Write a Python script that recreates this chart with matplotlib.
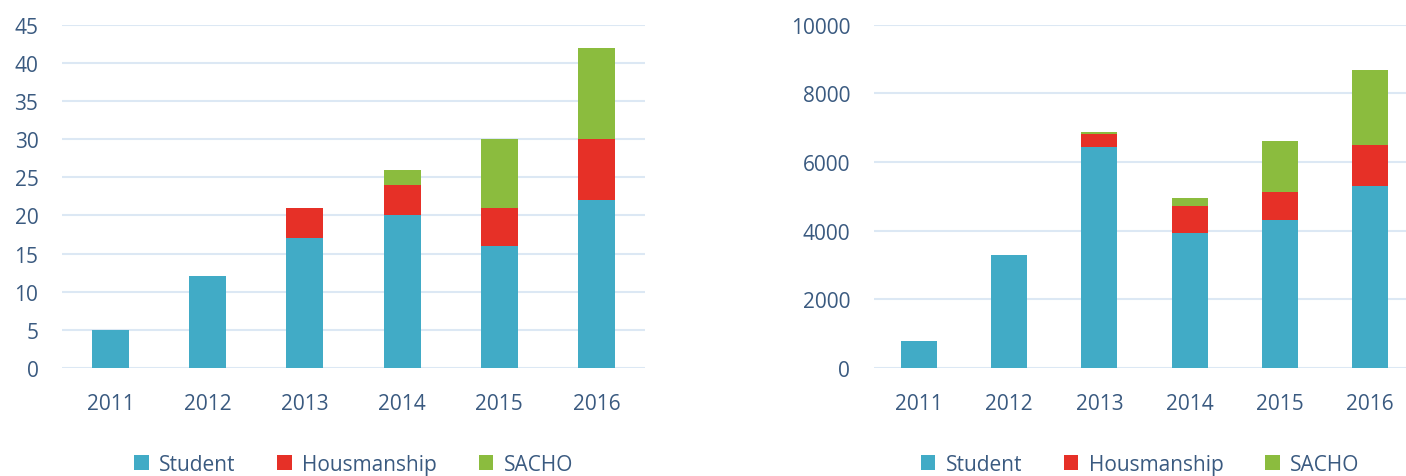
import matplotlib.pyplot as plt
import numpy as np

years = ["2011", "2012", "2013", "2014", "2015", "2016"]

# left chart: counts
student_n = [5, 12, 17, 20, 16, 22]
housman_n = [0, 0, 4, 4, 5, 8]
sacho_n = [0, 0, 0, 2, 9, 12]

# right chart: amounts
student_v = [800, 3300, 6430, 3920, 4310, 5300]
housman_v = [0, 0, 390, 800, 810, 1200]
sacho_v = [0, 0, 60, 240, 1500, 2170]

labels = ["Student", "Housmanship", "SACHO"]
colors = ["#41abc6", "#e63027", "#8bbc3e"]
text_color = "#3a5a80"
grid_color = "#dce8f4"

plt.rcParams['font.family'] = ['Open Sans', 'DejaVu Sans']

fig = plt.figure(figsize=(14.06, 4.77), dpi=100)
ax1 = fig.add_axes([0.0441, 0.2264, 0.4146, 0.7196])
ax2 = fig.add_axes([0.6216, 0.2264, 0.3784, 0.7196])


def stacked(ax, series, width, ylim, ticks, xlim):
    x = np.arange(len(years))
    bottom = np.zeros(len(years))
    handles = []
    for vals, col, lab in zip(series, colors, labels):
        vals = np.array(vals, dtype=float)
        h = ax.bar(x, vals, width, bottom=bottom, color=col, label=lab, zorder=3)
        handles.append(h)
        bottom += vals
    ax.set_ylim(*ylim)
    ax.set_xlim(*xlim)
    ax.set_yticks(ticks)
    ax.set_xticks(x)
    ax.set_xticklabels(years)
    ax.grid(axis="y", color=grid_color, linewidth=1.5, zorder=0)
    for s in ax.spines.values():
        s.set_visible(False)
    ax.tick_params(length=0, labelsize=15, colors=text_color)
    ax.tick_params(axis="y", pad=17)
    ax.tick_params(axis="x", pad=18)
    ax.legend(handles=handles, loc="upper center", bbox_to_anchor=(0.5, -0.195),
              ncol=3, frameon=False, fontsize=15, labelcolor=text_color,
              handlelength=0.7, handleheight=0.7, columnspacing=2.0, handletextpad=0.5)


stacked(ax1, [student_n, housman_n, sacho_n], 0.38, (0, 45), range(0, 46, 5), (-0.5, 5.5))
stacked(ax2, [student_v, housman_v, sacho_v], 0.4, (0, 10000), range(0, 10001, 2000), (-0.5, 5.4))

fig.savefig("out.png", dpi=100)
